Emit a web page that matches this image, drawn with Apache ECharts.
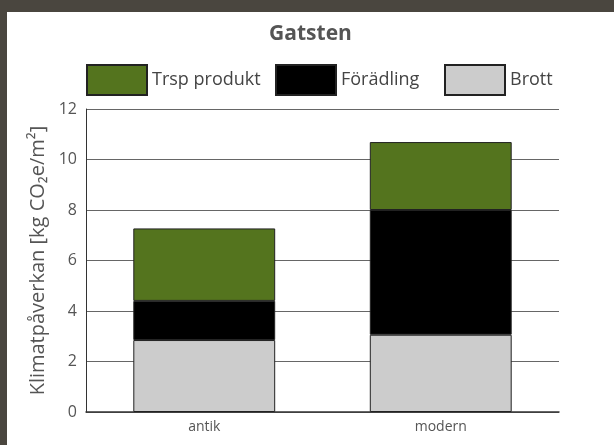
<!DOCTYPE html>
<html>
<head>
<meta charset="utf-8">
<script src="https://cdn.jsdelivr.net/npm/echarts@6/dist/echarts.min.js"></script>
<style>
  html, body { margin: 0; padding: 0; background: #ffffff; }
  #frame { position: absolute; left: 0; top: 0; width: 614px; height: 445px; background: #4a463f; }
  #chart { position: absolute; left: 7px; top: 12px; width: 607px; height: 433px; background: #ffffff; }
</style>
</head>
<body>
<div id="frame"></div>
<div id="chart"></div>
<script>
const categories = ['antik', 'modern'];
const brott = [2.85, 3.06];
const foradling = [1.55, 4.94];
const trsp = [2.87, 2.69];
const yTicks = [0, 2, 4, 6, 8, 10, 12];
const legendNames = ['Trsp produkt', 'Förädling', 'Brott'];

const FONT = '"Open Sans", Lato, sans-serif';
const chart = echarts.init(document.getElementById('chart'));
const barBorder = { borderColor: '#222', borderWidth: 1 };
const legendLefts = [74, 263, 432];
const legends = legendNames.map((n, i) => ({
  left: legendLefts[i], top: 47, itemWidth: 60, itemHeight: 30, icon: 'rect',
  textStyle: { fontFamily: FONT, fontSize: 18, color: '#444' },
  data: [n]
}));
chart.setOption({
  animation: false,
  title: {
    text: 'Gatsten', left: 'center', top: 7,
    textStyle: { fontFamily: FONT, fontSize: 21, fontWeight: 'bold', color: '#555' }
  },
  legend: legends,
  grid: { left: 79, right: 55, top: 97, bottom: 33 },
  xAxis: {
    type: 'category', data: categories,
    axisLine: { lineStyle: { color: '#333', width: 1.5 } },
    axisTick: { show: false },
    axisLabel: { fontFamily: FONT, fontSize: 14, color: '#555', margin: 8 }
  },
  yAxis: {
    type: 'value', min: 0, max: 12, interval: 2,
    name: 'Klimatpåverkan [kg CO₂e/m²]', nameLocation: 'middle', nameGap: 38,
    nameTextStyle: { fontFamily: FONT, fontSize: 20, color: '#555' },
    axisLine: { show: true, lineStyle: { color: '#333', width: 1 } },
    axisTick: { show: false },
    axisLabel: { fontFamily: FONT, fontSize: 16, color: '#555', margin: 9,
      formatter: v => yTicks.includes(v) ? String(v) : '' },
    splitLine: { lineStyle: { color: '#666', width: 1 } }
  },
  series: [
    { name: 'Brott', type: 'bar', stack: 's', data: brott, barWidth: '60%',
      itemStyle: Object.assign({ color: '#cccccc' }, barBorder) },
    { name: 'Förädling', type: 'bar', stack: 's', data: foradling,
      itemStyle: Object.assign({ color: '#000000' }, barBorder) },
    { name: 'Trsp produkt', type: 'bar', stack: 's', data: trsp,
      itemStyle: Object.assign({ color: '#54741e' }, barBorder) }
  ]
});
</script>
</body>
</html>
